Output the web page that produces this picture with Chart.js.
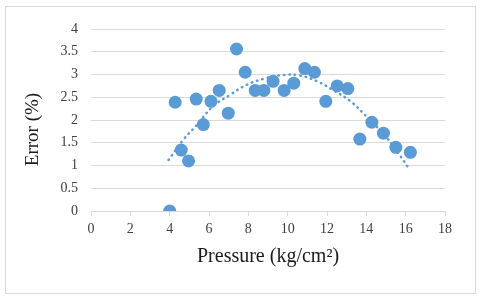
<!DOCTYPE html>
<html>
<head>
<meta charset="utf-8">
<script src="https://cdn.jsdelivr.net/npm/chart.js@4"></script>
<style>
  html, body { margin: 0; padding: 0; background: #fff; }
  canvas { display: block; }
</style>
</head>
<body>
<canvas id="errorChart" width="480" height="298"></canvas>
<script>
// measured points
const pressure = [4.0, 4.28, 4.59, 4.96, 5.35, 5.71, 6.10, 6.52, 6.98, 7.40, 7.84, 8.35, 8.79,
  9.26, 9.82, 10.31, 10.87, 11.36, 11.94, 12.52, 13.06, 13.67, 14.28, 14.87, 15.5, 16.24];
const errorPct = [0, 2.39, 1.34, 1.10, 2.46, 1.90, 2.41, 2.65, 2.15, 3.56, 3.05, 2.65, 2.65,
  2.85, 2.65, 2.81, 3.13, 3.05, 2.41, 2.75, 2.69, 1.58, 1.95, 1.71, 1.40, 1.29];

// trendline
const trendX = [3.94, 4.7, 5.4, 6.2, 7.1, 7.9, 8.9, 9.8, 10.6, 11.5, 12.3, 13.2, 14.0, 14.9, 15.5, 16.14];
const trendY = [1.12, 1.57, 1.90, 2.30, 2.56, 2.77, 2.92, 2.99, 2.98, 2.85, 2.66, 2.41, 2.08, 1.68, 1.35, 0.95];

const blue = '#5B9BD5';
const gridColor = '#d9d9d9';
const tickFont = { family: 'Liberation Serif', size: 14 };
const titleFont = { family: 'Liberation Serif', size: 20 };

const frame = {
  id: 'frame',
  beforeDraw(chart) {
    const c = chart.ctx;
    c.save();
    c.fillStyle = '#fff';
    c.fillRect(0, 0, chart.width, chart.height);
    c.strokeStyle = '#d9d9d9';
    c.lineWidth = 1;
    c.strokeRect(5.5, 6.5, 470, 287);
    c.restore();
  }
};

const ctx = document.getElementById('errorChart').getContext('2d');
const chart = new Chart(ctx, {
  type: 'scatter',
  data: {
    datasets: [
      {
        label: 'Error',
        data: pressure.map((p, i) => ({ x: p, y: errorPct[i] })),
        backgroundColor: blue,
        borderColor: blue,
        borderWidth: 0,
        pointRadius: 6.5,
        order: 1
      },
      {
        label: 'Trend',
        data: trendX.map((p, i) => ({ x: p, y: trendY[i] })),
        showLine: true,
        borderColor: blue,
        borderWidth: 2.5,
        borderDash: [0.5, 5],
        borderCapStyle: 'round',
        tension: 0.4,
        pointRadius: 0,
        fill: false,
        order: 2
      }
    ]
  },
  options: {
    responsive: false,
    maintainAspectRatio: false,
    animation: false,
    layout: { padding: { left: 10, right: 35, top: 29, bottom: 10 } },
    plugins: {
      legend: { display: false },
      tooltip: { enabled: false }
    },
    scales: {
      x: {
        type: 'linear',
        min: 0,
        max: 18,
        ticks: { stepSize: 2, font: tickFont, color: '#404040', padding: 5, maxRotation: 0 },
        grid: { drawOnChartArea: false, color: gridColor, tickLength: 5 },
        border: { color: gridColor },
        title: {
          display: true,
          text: 'Pressure (kg/cm²)',
          font: titleFont,
          color: '#1a1a1a',
          padding: { top: 0, bottom: 19 }
        },
        afterFit(scale) { scale.height = 77; }
      },
      y: {
        min: 0,
        max: 4,
        ticks: {
          stepSize: 0.5,
          font: tickFont,
          color: '#404040',
          padding: 13,
          callback: v => String(v)
        },
        grid: { color: gridColor, drawTicks: false },
        border: { display: false },
        title: {
          display: true,
          // trailing spaces nudge the label down like the original
          text: 'Error (%)    ',
          font: { family: 'Liberation Serif', size: 19 },
          color: '#1a1a1a',
          padding: { top: 12, bottom: 0 }
        },
        afterFit(scale) { scale.width = 81; }
      }
    }
  },
  plugins: [frame]
});
</script>
</body>
</html>
